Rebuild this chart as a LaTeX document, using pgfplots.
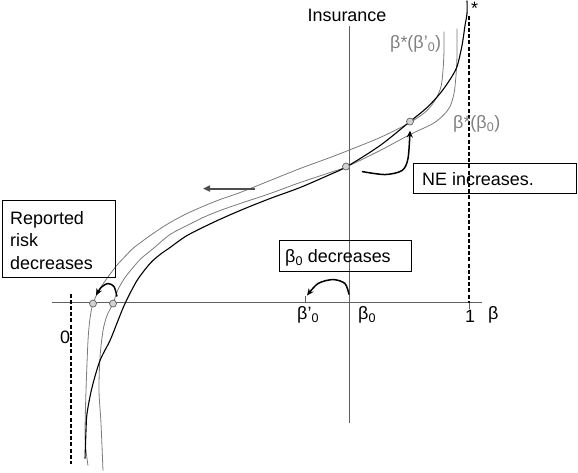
\documentclass[border=0pt]{standalone}
\usepackage{fontspec}
\setmainfont{Liberation Sans}
\usepackage{pgfplots}
\pgfplotsset{compat=1.18}
\usetikzlibrary{arrows.meta}
\definecolor{cgray}{HTML}{7A7A7A}
\definecolor{axgray}{HTML}{606060}
\definecolor{lblgray}{HTML}{808080}
\newcommand\f{\fontsize{18}{21}\selectfont}
\begin{document}
\begin{tikzpicture}
\begin{axis}[scale only axis, width=578bp, height=472bp,
  xmin=0, xmax=578, ymin=0, ymax=472, y dir=reverse,
  hide axis, clip=false]
\path (axis cs:0,0) rectangle (axis cs:578,472);
% axes
\addplot[axgray, line width=0.9bp] coordinates {(52,302) (482,302)};
\addplot[axgray, line width=0.9bp] coordinates {(349,25) (349,422)};
\addplot[axgray, line width=0.9bp] coordinates {(305,295) (305,302)};
\addplot[axgray, line width=0.9bp] coordinates {(469,302) (469,308)};
% dashed lines
\addplot[black, line width=1.8bp, dash pattern=on 4bp off 2.2bp] coordinates {(469,15) (469,302)};
\addplot[black, line width=1.8bp, dash pattern=on 4bp off 2.2bp] coordinates {(71,293) (71,463)};
% curve beta*(beta'_0)
\addplot[cgray, line width=0.8bp, smooth] coordinates {
(88,465) (86,450) (85,433) (86,390) (88,340) (90,318) (93,303) (100,288) (115,267) (125,256) (134,247) (153,233) (170,222) (187,213) (205,205) (220,199) (240,192) (270,180) (300,168) (330,157) (348,150) (380,137) (410,122) (427,110) (436,98) (441,86) (443,70) (444,50) (444,31)};
% curve beta*(beta_0)
\addplot[cgray, line width=0.8bp, smooth] coordinates {
(103,470) (101,423) (99,390) (100,357) (103,330) (107,315) (113,303) (118,289) (125,277) (133,267) (141,258) (152,249) (170,234) (187,225) (203,217) (220,210) (240,203) (270,193) (300,182) (330,172) (347,166) (380,150) (410,134) (433,123) (444,114) (450,106) (454,93) (456,75) (457,55) (457,28)};
% black curve
\addplot[black, line width=1.1bp, smooth] coordinates {
(85,458) (86,430) (87,413) (92,387) (100,360) (110,340) (118,320) (125,303) (137,280) (150,263) (160,254) (170,247) (187,235) (213,222) (240,210) (270,198) (300,187) (330,174) (347,166) (380,145) (410,121) (427,107) (440,93) (450,79) (457,66) (462,45) (465,25) (467,13) (467,0)};
% circles
\addplot[only marks, mark=*, mark size=3.5bp, mark options={fill=gray!35, draw=axgray, line width=0.7bp}] coordinates {(93,303) (113,303) (346,166) (410,121)};
% straight arrow
\addplot[axgray!80!black, line width=2bp, -{Triangle[length=7bp,width=6bp]}] coordinates {(255,188) (203,188)};
% curved arrows
\addplot[black, line width=1.5bp, smooth, -{Stealth[length=7bp,width=6bp]}] coordinates {(349,294) (345,283) (333,279) (318,283) (307,295)};
\addplot[black, line width=1.5bp, smooth, -{Stealth[length=7bp,width=6bp]}] coordinates {(117,296) (114,286) (108,283) (101,287) (96,295)};
\addplot[black, line width=1.5bp, smooth, -{Stealth[length=7bp,width=6bp]}] coordinates {(362,171) (385,174) (402,170) (408,158) (410,130)};
% boxes
\draw[black, line width=0.8bp] (axis cs:2,200) rectangle (axis cs:115,277);
\draw[black, line width=0.8bp] (axis cs:279,240) rectangle (axis cs:411,271);
\draw[black, line width=0.8bp] (axis cs:413,163) rectangle (axis cs:576,193);
% texts
\node[font=\f, anchor=base west, inner sep=0pt] at (axis cs:10,224) {Reported};
\node[font=\f, anchor=base west, inner sep=0pt] at (axis cs:10,246) {risk};
\node[font=\f, anchor=base west, inner sep=0pt] at (axis cs:10,269) {decreases};
\node[font=\f, anchor=base west, inner sep=0pt] at (axis cs:285,262) {β\textsubscript{0} decreases};
\node[font=\f, anchor=base west, inner sep=0pt] at (axis cs:422,185) {NE increases.};
\node[font=\f, anchor=base, inner sep=0pt] at (axis cs:347,21) {Insurance};
\node[font=\f, text=lblgray, anchor=base west, inner sep=0pt] at (axis cs:390,48) {β*(β'\textsubscript{0})};
\node[font=\f, text=lblgray, anchor=base west, inner sep=0pt] at (axis cs:453,128) {β*(β\textsubscript{0})};
\node[font=\f, anchor=base west, inner sep=0pt] at (axis cs:471,14) {*};
\node[font=\f, anchor=base west, inner sep=0pt] at (axis cs:297,319) {β'\textsubscript{0}};
\node[font=\f, anchor=base west, inner sep=0pt] at (axis cs:358,319) {β\textsubscript{0}};
\node[font=\f, anchor=base west, inner sep=0pt] at (axis cs:465,322) {1};
\node[font=\f, anchor=base west, inner sep=0pt] at (axis cs:488,319) {β};
\node[font=\f, anchor=base west, inner sep=0pt] at (axis cs:60,343) {0};
\end{axis}
\end{tikzpicture}
\end{document}
